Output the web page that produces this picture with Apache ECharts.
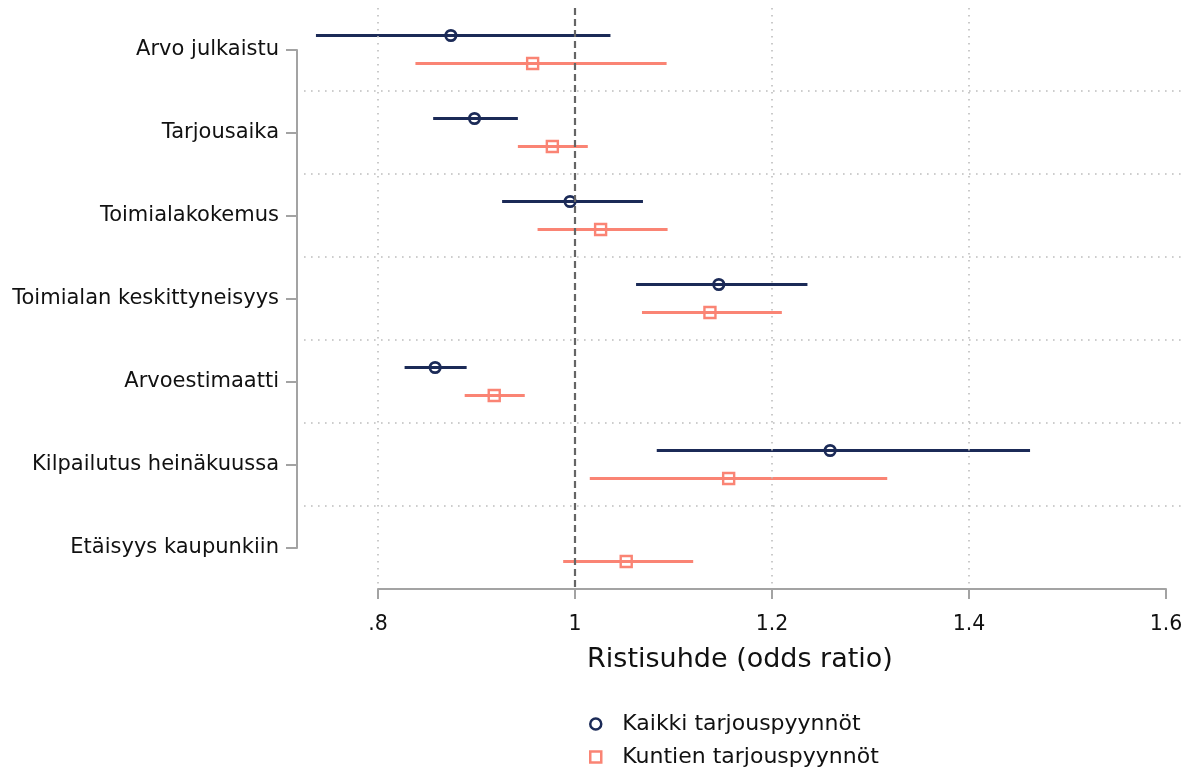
<!DOCTYPE html>
<html>
<head>
<meta charset="utf-8">
<script src="https://cdn.jsdelivr.net/npm/echarts@6/dist/echarts.min.js"></script>
<style>
  html, body { margin: 0; padding: 0; background: #fff; }
  #chart { width: 1192px; height: 769px; }
</style>
</head>
<body>
<div id="chart"></div>
<script>
// Odds ratios with 95% confidence intervals, two model samples
const categories = [
  'Arvo julkaistu',
  'Tarjousaika',
  'Toimialakokemus',
  'Toimialan keskittyneisyys',
  'Arvoestimaatti',
  'Kilpailutus heinäkuussa',
  'Etäisyys kaupunkiin'
];
const seriesNames = ['Kaikki tarjouspyynnöt', 'Kuntien tarjouspyynnöt'];

// All calls for tender (no estimate for distance)
const kaikkiEst = [0.874, 0.898, 0.995, 1.146, 0.858, 1.259, null];
const kaikkiLo  = [0.737, 0.856, 0.926, 1.062, 0.827, 1.083, null];
const kaikkiHi  = [1.036, 0.942, 1.069, 1.236, 0.890, 1.462, null];

// Municipal calls for tender
const kuntienEst = [0.957, 0.977, 1.026, 1.137, 0.918, 1.156, 1.052];
const kuntienLo  = [0.838, 0.942, 0.962, 1.068, 0.888, 1.015, 0.988];
const kuntienHi  = [1.093, 1.013, 1.094, 1.210, 0.949, 1.317, 1.120];

const xTicks = [0.8, 1, 1.2, 1.4, 1.6];
const referenceValue = 1;

const NAVY = '#1b2a57';
const SALMON = '#fa8474';
const AXIS_GRAY = '#a3a3a3';
const GRID_GRAY = '#bdbdbd';
const FONT = 'DejaVu Sans';

function rows(lo, est, hi) {
  const out = [];
  categories.forEach((c, i) => {
    if (est[i] == null) return;
    out.push([i, lo[i], est[i], hi[i]]);
  });
  return out;
}

function tickText(v) {
  const s = String(Number(v.toFixed(2)));
  return s.startsWith('0.') ? s.slice(1) : s;
}

// Whisker plus marker, shifted up or down inside its row
function makeRenderer(color, marker, dy) {
  return function (params, api) {
    const y = api.value(0);
    const pLo = api.coord([api.value(1), y]);
    const pEst = api.coord([api.value(2), y]);
    const pHi = api.coord([api.value(3), y]);
    const cy = pEst[1] + dy;
    const children = [{
      type: 'line',
      shape: { x1: pLo[0], y1: cy, x2: pHi[0], y2: cy },
      style: { stroke: color, lineWidth: 2.8 }
    }];
    if (marker === 'circle') {
      children.push({
        type: 'circle',
        shape: { cx: pEst[0], cy: cy, r: 5.2 },
        style: { fill: 'transparent', stroke: color, lineWidth: 2.7 }
      });
    } else {
      const s = 11;
      children.push({
        type: 'rect',
        shape: { x: pEst[0] - s / 2, y: cy - s / 2, width: s, height: s },
        style: { fill: 'transparent', stroke: color, lineWidth: 2.4 }
      });
    }
    return { type: 'group', children: children };
  };
}

const dottedLines = [];
xTicks.forEach(v => {
  if (v !== referenceValue && v !== xTicks[xTicks.length - 1]) dottedLines.push({ xAxis: v });
});
for (let i = 0; i < categories.length - 1; i++) dottedLines.push({ yAxis: i + 0.5 });

function legendBlock(name, icon, color, top) {
  return {
    orient: 'vertical', left: 589, top: top, padding: 0,
    itemWidth: 11, itemHeight: 11,
    textStyle: { fontSize: 22, color: '#111', fontFamily: FONT, padding: [0, 0, 0, 16] },
    data: [{ name: name, icon: icon,
      itemStyle: { color: '#fff', borderColor: color, borderWidth: 2.5 } }]
  };
}

const chart = echarts.init(document.getElementById('chart'), null, { renderer: 'canvas' });

chart.setOption({
  animation: false,
  backgroundColor: '#fff',
  textStyle: { fontFamily: FONT },
  grid: [
    { left: 304, right: 7, top: 8, bottom: 180 },   // plotting area
    { left: 297, right: 7, top: 50, bottom: 221 },  // category axis
    { left: 378, right: 26, top: 8, bottom: 180 }   // value axis
  ],
  xAxis: [
    {
      gridIndex: 0, type: 'value', min: 0.72487, max: 1.61931,
      axisLine: { show: false }, axisTick: { show: false },
      axisLabel: { show: false }, splitLine: { show: false },
      name: 'Ristisuhde (odds ratio)', nameLocation: 'middle', nameGap: 57,
      nameTextStyle: { fontSize: 27, color: '#111', fontFamily: FONT, padding: [0, 9, 0, 0] }
    },
    { gridIndex: 1, type: 'value', min: 0, max: 1, show: false },
    {
      gridIndex: 2, type: 'value', min: 0.8, max: 1.6, interval: 0.2,
      axisLine: { show: true, lineStyle: { color: AXIS_GRAY, width: 2 } },
      axisTick: { show: true, length: 10, lineStyle: { color: AXIS_GRAY, width: 2 } },
      axisLabel: { margin: 25, fontSize: 20.5, color: '#111', fontFamily: FONT, formatter: tickText },
      splitLine: { show: false }
    }
  ],
  yAxis: [
    { gridIndex: 0, type: 'value', min: -0.5, max: 6.5, inverse: true, show: false },
    {
      gridIndex: 1, type: 'value', min: 0, max: 6, interval: 1, inverse: true,
      axisLine: { show: true, lineStyle: { color: AXIS_GRAY, width: 2 } },
      axisTick: { show: true, length: 11, lineStyle: { color: AXIS_GRAY, width: 2 } },
      axisLabel: {
        margin: 18, fontSize: 21, color: '#111', fontFamily: FONT,
        padding: [3, 0, 0, 0],
        formatter: v => categories[v] || ''
      },
      splitLine: { show: false }
    },
    { gridIndex: 2, type: 'value', min: 0, max: 1, show: false }
  ],
  legend: [
    legendBlock(seriesNames[0], 'circle', NAVY, 713),
    legendBlock(seriesNames[1], 'rect', SALMON, 746)
  ],
  series: [
    {
      name: 'gridlines', type: 'scatter', xAxisIndex: 0, yAxisIndex: 0, data: [],
      silent: true, z: 1,
      markLine: {
        silent: true, symbol: 'none', label: { show: false },
        lineStyle: { color: GRID_GRAY, width: 1.6, type: [1.6, 5.4] },
        emphasis: { disabled: true },
        data: dottedLines
      }
    },
    {
      name: seriesNames[0], type: 'custom', xAxisIndex: 0, yAxisIndex: 0, z: 3,
      itemStyle: { color: NAVY },
      renderItem: makeRenderer(NAVY, 'circle', -14),
      encode: { x: [1, 2, 3], y: 0 },
      data: rows(kaikkiLo, kaikkiEst, kaikkiHi)
    },
    {
      name: seriesNames[1], type: 'custom', xAxisIndex: 0, yAxisIndex: 0, z: 3,
      itemStyle: { color: SALMON },
      renderItem: makeRenderer(SALMON, 'rect', 14),
      encode: { x: [1, 2, 3], y: 0 },
      data: rows(kuntienLo, kuntienEst, kuntienHi)
    },
    {
      name: 'reference', type: 'scatter', xAxisIndex: 0, yAxisIndex: 0, data: [],
      silent: true, z: 5,
      markLine: {
        silent: true, symbol: 'none', label: { show: false },
        lineStyle: { color: '#656565', width: 2.2, type: [7, 4] },
        emphasis: { disabled: true },
        data: [{ xAxis: referenceValue }]
      }
    }
  ]
});
</script>
</body>
</html>
